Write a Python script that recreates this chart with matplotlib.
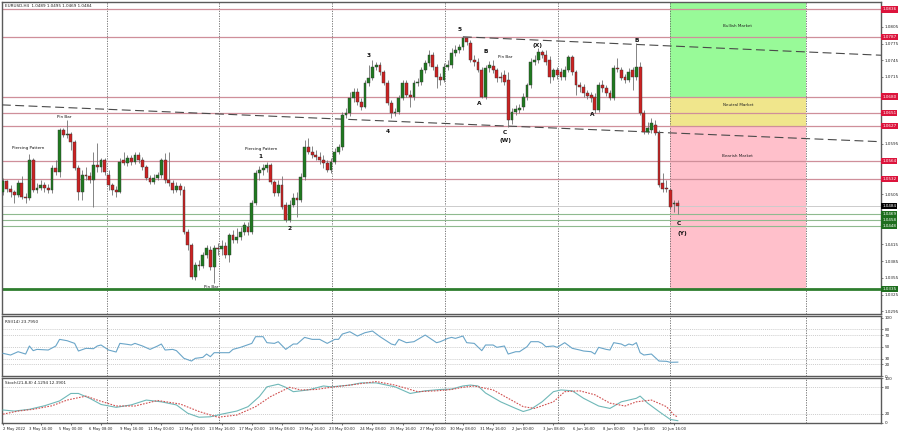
import matplotlib
matplotlib.use('Agg')
import matplotlib.pyplot as plt
from matplotlib.patches import Rectangle
import matplotlib.transforms as mtransforms

# ---------------- data (EURUSD H4, 2 May - 10 Jun 2022) ----------------
opens = [1.0509,1.0529,1.0514,1.0509,1.0504,1.0525,1.0500,1.0498,1.0566,1.0512,
         1.0516,1.0521,1.0516,1.0512,1.0552,1.0545,1.0620,1.0611,1.0613,1.0599,
         1.0552,1.0509,1.0539,1.0538,1.0530,1.0557,1.0554,1.0566,1.0539,1.0521,
         1.0512,1.0509,1.0566,1.0561,1.0570,1.0563,1.0575,1.0566,1.0554,1.0534,
         1.0527,1.0534,1.0539,1.0566,1.0530,1.0525,1.0512,1.0520,1.0512,1.0437,
         1.0414,1.0357,1.0378,1.0376,1.0396,1.0405,1.0375,1.0409,1.0407,1.0412,
         1.0396,1.0432,1.0423,1.0428,1.0437,1.0446,1.0437,1.0489,1.0543,1.0548,
         1.0552,1.0557,1.0527,1.0507,1.0521,1.0486,1.0459,1.0486,1.0498,1.0495,
         1.0536,1.0590,1.0581,1.0575,1.0572,1.0566,1.0561,1.0548,1.0563,1.0581,
         1.0590,1.0647,1.0651,1.0677,1.0688,1.0670,1.0661,1.0704,1.0713,1.0733,
         1.0737,1.0724,1.0704,1.0668,1.0651,1.0652,1.0677,1.0704,1.0683,1.0679,
         1.0704,1.0706,1.0728,1.0740,1.0754,1.0733,1.0715,1.0710,1.0733,1.0737,
         1.0758,1.0763,1.0769,1.0785,1.0776,1.0745,1.0742,1.0728,1.0679,1.0731,
         1.0735,1.0728,1.0715,1.0719,1.0710,1.0638,1.0652,1.0656,1.0661,1.0679,
         1.0701,1.0742,1.0745,1.0760,1.0754,1.0745,1.0715,1.0728,1.0724,1.0715,
         1.0728,1.0751,1.0724,1.0701,1.0697,1.0686,1.0683,1.0679,1.0656,1.0701,
         1.0695,1.0686,1.0677,1.0731,1.0728,1.0715,1.0710,1.0728,1.0715,1.0733,
         1.0651,1.0616,1.0620,1.0629,1.0615,1.0525,1.0516,1.0512,1.0488,1.0489]
closes = [1.0529,1.0514,1.0509,1.0504,1.0525,1.0500,1.0498,1.0566,1.0512,1.0516,
          1.0521,1.0516,1.0512,1.0552,1.0545,1.0620,1.0611,1.0612,1.0599,1.0552,
          1.0509,1.0539,1.0538,1.0530,1.0557,1.0554,1.0566,1.0545,1.0521,1.0512,
          1.0509,1.0563,1.0561,1.0570,1.0563,1.0575,1.0566,1.0554,1.0534,1.0527,
          1.0534,1.0539,1.0566,1.0530,1.0525,1.0512,1.0520,1.0512,1.0437,1.0414,
          1.0357,1.0378,1.0376,1.0396,1.0409,1.0375,1.0409,1.0407,1.0412,1.0396,
          1.0432,1.0423,1.0428,1.0437,1.0450,1.0437,1.0489,1.0543,1.0548,1.0552,
          1.0557,1.0527,1.0507,1.0521,1.0482,1.0459,1.0486,1.0498,1.0495,1.0536,
          1.0590,1.0581,1.0575,1.0572,1.0566,1.0561,1.0548,1.0563,1.0581,1.0590,
          1.0647,1.0651,1.0677,1.0688,1.0670,1.0661,1.0704,1.0713,1.0733,1.0737,
          1.0724,1.0704,1.0668,1.0651,1.0652,1.0677,1.0704,1.0683,1.0679,1.0704,
          1.0706,1.0728,1.0740,1.0754,1.0733,1.0715,1.0710,1.0733,1.0737,1.0758,
          1.0763,1.0769,1.0785,1.0778,1.0745,1.0742,1.0728,1.0679,1.0731,1.0737,
          1.0728,1.0713,1.0713,1.0706,1.0638,1.0652,1.0658,1.0659,1.0679,1.0701,
          1.0742,1.0745,1.0760,1.0754,1.0742,1.0715,1.0728,1.0719,1.0715,1.0728,
          1.0751,1.0724,1.0701,1.0697,1.0686,1.0681,1.0677,1.0656,1.0701,1.0695,
          1.0686,1.0677,1.0731,1.0729,1.0713,1.0710,1.0724,1.0715,1.0733,1.0651,
          1.0616,1.0624,1.0633,1.0615,1.0521,1.0514,1.0515,1.0482,1.0489,1.0484]
highs = [1.0534,1.0530,1.0521,1.0512,1.0530,1.0538,1.0507,1.0577,1.0570,1.0525,
         1.0530,1.0527,1.0523,1.0557,1.0566,1.0624,1.0624,1.0638,1.0616,1.0602,
         1.0557,1.0548,1.0554,1.0545,1.0581,1.0597,1.0570,1.0570,1.0548,1.0525,
         1.0520,1.0570,1.0581,1.0575,1.0575,1.0581,1.0581,1.0572,1.0557,1.0539,
         1.0541,1.0545,1.0570,1.0579,1.0581,1.0530,1.0527,1.0525,1.0520,1.0443,
         1.0418,1.0384,1.0387,1.0401,1.0414,1.0412,1.0414,1.0418,1.0423,1.0419,
         1.0435,1.0441,1.0444,1.0446,1.0455,1.0455,1.0495,1.0548,1.0556,1.0559,
         1.0563,1.0561,1.0530,1.0530,1.0538,1.0491,1.0495,1.0507,1.0509,1.0543,
         1.0602,1.0606,1.0591,1.0584,1.0581,1.0575,1.0566,1.0570,1.0588,1.0595,
         1.0652,1.0659,1.0688,1.0695,1.0695,1.0677,1.0710,1.0737,1.0745,1.0742,
         1.0742,1.0728,1.0710,1.0674,1.0659,1.0683,1.0710,1.0710,1.0692,1.0710,
         1.0713,1.0733,1.0745,1.0763,1.0760,1.0738,1.0722,1.0740,1.0745,1.0767,
         1.0772,1.0774,1.0788,1.0787,1.0781,1.0754,1.0749,1.0733,1.0737,1.0744,
         1.0745,1.0731,1.0724,1.0728,1.0724,1.0659,1.0665,1.0667,1.0686,1.0704,
         1.0749,1.0754,1.0767,1.0763,1.0763,1.0753,1.0731,1.0733,1.0731,1.0735,
         1.0754,1.0754,1.0728,1.0706,1.0702,1.0692,1.0688,1.0686,1.0706,1.0710,
         1.0701,1.0692,1.0737,1.0749,1.0733,1.0720,1.0731,1.0733,1.0776,1.0742,
         1.0656,1.0634,1.0642,1.0638,1.0620,1.0543,1.0530,1.0516,1.0495,1.0495]
lows = [1.0504,1.0509,1.0500,1.0489,1.0500,1.0497,1.0489,1.0495,1.0509,1.0507,
        1.0512,1.0509,1.0507,1.0507,1.0539,1.0536,1.0608,1.0606,1.0584,1.0548,
        1.0495,1.0495,1.0530,1.0525,1.0482,1.0545,1.0545,1.0539,1.0512,1.0504,
        1.0500,1.0507,1.0557,1.0556,1.0557,1.0559,1.0561,1.0548,1.0530,1.0523,
        1.0523,1.0530,1.0534,1.0525,1.0520,1.0507,1.0509,1.0504,1.0434,1.0405,
        1.0353,1.0351,1.0369,1.0373,1.0391,1.0369,1.0346,1.0396,1.0396,1.0391,
        1.0384,1.0418,1.0418,1.0423,1.0432,1.0432,1.0434,1.0486,1.0530,1.0539,
        1.0545,1.0523,1.0502,1.0502,1.0478,1.0455,1.0455,1.0482,1.0464,1.0491,
        1.0530,1.0577,1.0570,1.0566,1.0559,1.0552,1.0545,1.0543,1.0559,1.0577,
        1.0584,1.0642,1.0645,1.0670,1.0665,1.0656,1.0659,1.0699,1.0710,1.0728,
        1.0719,1.0701,1.0665,1.0642,1.0645,1.0649,1.0674,1.0679,1.0661,1.0674,
        1.0699,1.0701,1.0722,1.0735,1.0728,1.0695,1.0701,1.0706,1.0728,1.0731,
        1.0753,1.0758,1.0763,1.0772,1.0742,1.0735,1.0724,1.0677,1.0676,1.0724,
        1.0722,1.0706,1.0706,1.0701,1.0625,1.0631,1.0647,1.0651,1.0656,1.0674,
        1.0695,1.0737,1.0740,1.0749,1.0737,1.0704,1.0710,1.0711,1.0710,1.0710,
        1.0724,1.0719,1.0683,1.0688,1.0679,1.0676,1.0670,1.0651,1.0652,1.0688,
        1.0681,1.0674,1.0674,1.0724,1.0710,1.0704,1.0706,1.0692,1.0710,1.0647,
        1.0613,1.0613,1.0615,1.0611,1.0518,1.0509,1.0509,1.0478,1.0473,1.0469]

rsi_bar = [0,2,4,6,7,8,9,12,14,15,17,19,20,22,24,25,26,28,30,31,33,34,35,37,39,41,42,43,45,46,
           48,50,51,53,54,55,56,58,60,61,63,66,67,69,70,72,73,75,77,78,80,82,84,86,88,89,90,92,94,96,
           98,100,103,104,105,107,109,112,115,116,118,119,120,122,123,125,127,128,130,131,133,134,136,137,139,140,142,143,144,146,
           147,149,151,153,154,156,157,158,160,161,162,164,165,166,167,168,169,170,172,174,176,177,179]
rsi_val = [38.9,36.0,41.7,37.7,51.5,43.5,45.7,44.6,51.5,62.9,60.6,56.0,42.9,47.5,46.9,51.5,53.2,44.6,41.2,56.0,54.3,53.2,56.0,51.5,45.7,51.5,54.9,44.6,45.7,43.5,
           30.3,25.7,30.3,32.0,37.7,33.2,40.0,40.0,40.0,45.7,49.2,56.0,67.5,67.5,57.2,56.0,58.9,45.7,54.9,54.9,66.3,62.9,62.9,56.0,62.9,62.9,72.0,76.0,68.6,74.3,
           77.2,67.5,54.9,53.2,62.9,57.2,58.9,70.3,57.2,58.9,64.6,66.3,64.6,68.6,57.2,56.0,43.5,53.2,53.2,49.2,51.5,37.7,41.7,41.7,50.3,58.9,58.9,56.0,50.3,51.5,
           49.2,57.2,47.5,44.6,42.9,41.7,37.7,49.2,45.7,44.6,57.2,54.9,51.5,54.9,53.2,57.2,40.0,36.0,37.7,25.7,25.2,23.5,23.8]

stoch_bar = [0,3,7,11,15,18,20,23,26,30,34,38,42,46,49,52,55,58,62,65,68,70,73,75,77,81,85,87,92,95,
             99,104,108,112,116,119,122,124,126,128,132,136,138,140,143,146,148,151,154,158,161,164,168,169,171,174,177,179]
stoch_main = [28.4,26,30,38,49,66,66,55,41,34.5,40,51,47,40,21,12,13,19,26,36,59,81,87,80,70,74,83,81,85,90,
              90,81,66,72,75,76,83,85,83,67,47,32,25,30,47,70,74,72,55,37.5,32,47,55,60,44,25,7,4.13]
signal_bar = [0,4,8,13,17,22,25,30,35,41,47,52,57,62,67,71,76,79,83,87,92,99,104,110,115,119,122,125,130,134,
              138,141,146,149,153,157,161,165,168,172,176,178,179]
stoch_signal = [19,26,30,38,51,60,51,37.5,37.5,50,42,25,12,17,36,59,80,74,75,80,85,93,85,70,72,75,80,83,74,55,
                36,32,47,70,72,63,44,37.5,47,51,36,17,12.39]

resistance_levels = [1.0836, 1.0787, 1.0680, 1.0651, 1.0627, 1.0564, 1.0532]
support_levels = [1.0469, 1.0458, 1.0448]
major_support = 1.0335
current_price = 1.0484
zone_start, zone_end = 176.9, 213.0
zones = [("Bullish Market", 1.0680, 1.0870, "#98fa98"),
         ("Neutral Market", 1.0627, 1.0680, "#f0e68c"),
         ("Bearish Market", major_support, 1.0627, "#ffc0cb")]
zone_label_price = [1.0806, 1.0665, 1.0573]
trend_upper = ([122, 232.9], [1.0787, 1.0754])
trend_lower = ([-0.3, 232.9], [1.0665, 1.0599])
vgrid = [27.6, 57.3, 87.3, 117.2, 147.2, 176.9, 213.0]

annotations = [("Pin Bar", 16.2, 1.0643, False), ("Piercing Pattern", 6.6, 1.0588, False),
               ("Piercing Pattern", 68.4, 1.0586, False), ("1", 68.2, 1.0572, True),
               ("2", 76.1, 1.0443, True), ("Pin Bar", 55.2, 1.0339, False),
               ("3", 97.1, 1.0753, True), ("4", 102.1, 1.0618, True), ("5", 121.2, 1.0801, True),
               ("B", 128.1, 1.0760, True), ("Pin Bar", 133.2, 1.0751, False),
               ("A", 126.3, 1.0668, True), ("C", 133.2, 1.0616, True), ("(W)", 133.2, 1.0602, True),
               ("(X)", 141.9, 1.0772, True), ("A", 156.2, 1.0647, True), ("B", 168.2, 1.0781, True),
               ("C", 179.3, 1.0453, True), ("(Y)", 180.1, 1.0434, True)]

price_ticks = [1.0295, 1.0325, 1.0355, 1.0385, 1.0415, 1.0445, 1.0475, 1.0505, 1.0535,
               1.0565, 1.0595, 1.0625, 1.0655, 1.0685, 1.0715, 1.0745, 1.0775, 1.0805]
hidden_ticks = [1.0445, 1.0475, 1.0535, 1.0565, 1.0625, 1.0655, 1.0685]   # covered by level boxes

time_ticks = list(range(10, 179, 8))
time_labels = ["3 May 16:00", "5 May 00:00", "6 May 08:00", "9 May 16:00", "11 May 00:00",
               "12 May 08:00", "13 May 16:00", "17 May 00:00", "18 May 08:00", "19 May 16:00",
               "23 May 00:00", "24 May 08:00", "25 May 16:00", "27 May 00:00", "30 May 08:00",
               "31 May 16:00", "2 Jun 00:00", "3 Jun 08:00", "6 Jun 16:00", "8 Jun 00:00",
               "9 Jun 08:00", "10 Jun 16:00"]

# ---------------- figure ----------------
plt.rcParams['font.family'] = ['DejaVu Sans']
W, H = 900, 433
fig = plt.figure(figsize=(9, 4.33), dpi=100)
fig.patch.set_facecolor('white')

def rect(x0, y0, x1, y1):
    return [x0 / W, 1 - y1 / H, (x1 - x0) / W, (y1 - y0) / H]

ax = fig.add_axes(rect(2, 2, 881, 314))
ax_rsi = fig.add_axes(rect(2, 316, 881, 376))
ax_st = fig.add_axes(rect(2, 378, 881, 423))

XLIM = (-0.27, 232.9)
FS = 3.0
for a in (ax, ax_rsi, ax_st):
    a.set_xlim(*XLIM)
    a.yaxis.tick_right()
    a.tick_params(axis='y', labelsize=FS, length=1.5, width=0.4, pad=1, colors='#222222')
    a.tick_params(axis='x', length=0)
    for s in a.spines.values():
        s.set_color('#5a5a5a')
        s.set_linewidth(1.0)
    for v in vgrid:
        a.axvline(v, color='#666666', lw=0.6, ls=(0, (1.5, 1.5)), zorder=1)
ax.set_xticks([])
ax_rsi.set_xticks([])

# main panel
ax.set_ylim(1.02902, 1.08494)
ax.set_yticks(price_ticks)
ax.set_yticklabels(["" if t in hidden_ticks else f"{t:.4f}" for t in price_ticks])

for (name, lo, hi, col), lp in zip(zones, zone_label_price):
    ax.add_patch(Rectangle((zone_start, lo), zone_end - zone_start, hi - lo,
                           facecolor=col, edgecolor='none', zorder=0.5))
    ax.text((zone_start + zone_end) / 2, lp, name, fontsize=FS, ha='center', va='center',
            color='#222222', zorder=6)

for lv in resistance_levels:
    ax.axhline(lv, color='#cf8f9a', lw=0.9, zorder=2)
ax.axhline(current_price, color='#cccccc', lw=0.7, zorder=2)
for lv in support_levels:
    ax.axhline(lv, color='#8fba8f', lw=0.8, zorder=2)
ax.axhline(major_support, color='#2e7d2e', lw=2.0, zorder=2)

ax.plot(trend_upper[0], trend_upper[1], color='#4a4a4a', lw=0.8, dashes=(8, 4), zorder=3)
ax.plot(trend_lower[0], trend_lower[1], color='#4a4a4a', lw=0.8, dashes=(8, 4), zorder=3)

idx = list(range(len(closes)))
ax.vlines(idx, lows, highs, color='#707070', lw=0.6, zorder=4)
for i, (o, c) in enumerate(zip(opens, closes)):
    col = '#1f7a1f' if c >= o else '#cc2222'
    ax.bar(i, c - o, bottom=o, width=0.75, color=col, edgecolor='#333333',
           linewidth=0.3, zorder=5)

for txt, x, y, bold in annotations:
    ax.text(x, y, txt, fontsize=4.2 if bold else FS, fontweight='bold' if bold else 'normal',
            ha='center', va='center', color='#111111', zorder=7)

ax.text(0.003, 0.988, "EURUSD,H4  1.0489 1.0495 1.0469 1.0484", transform=ax.transAxes,
        fontsize=FS, ha='left', va='center', color='#222222')

tr = mtransforms.blended_transform_factory(ax.transAxes, ax.transData)
def price_box(p, bg):
    ax.text(1.0015, p, f"{p:.4f}", transform=tr, fontsize=FS, color='white', ha='left',
            va='center', zorder=10, clip_on=False,
            bbox=dict(boxstyle='square,pad=0.25', facecolor=bg, edgecolor='none'))
for lv in resistance_levels:
    price_box(lv, '#dc143c')
price_box(current_price, '#000000')
for lv in support_levels + [major_support]:
    price_box(lv, '#1e6e1e')

# RSI panel
ax_rsi.set_ylim(0, 103)
ax_rsi.set_yticks([0, 20, 30, 50, 70, 80, 100])
for lv in [20, 30, 50, 70, 80]:
    ax_rsi.axhline(lv, color='#bbbbbb', lw=0.5, ls=(0, (1.5, 1.5)), zorder=1)
ax_rsi.plot(rsi_bar, rsi_val, color='#6aa5c8', lw=0.8, zorder=3)
ax_rsi.text(0.003, 0.9, "RSI(14) 23.7950", transform=ax_rsi.transAxes, fontsize=FS,
            ha='left', va='center', color='#222222')

# Stochastic panel
ax_st.set_ylim(-1.1, 101.1)
ax_st.set_yticks([0, 20, 80, 100])
for lv in [20, 80]:
    ax_st.axhline(lv, color='#bbbbbb', lw=0.5, ls=(0, (1.5, 1.5)), zorder=1)
ax_st.plot(stoch_bar, stoch_main, color='#6fb8b8', lw=0.8, zorder=3)
ax_st.plot(signal_bar, stoch_signal, color='#d05050', lw=0.8, ls=(0, (1.5, 1.2)), zorder=3)
ax_st.text(0.003, 0.9, "Stoch(21,8,8) 4.1294 12.3901", transform=ax_st.transAxes, fontsize=FS,
           ha='left', va='center', color='#222222')

ax_st.set_xticks([0] + time_ticks)
ax_st.set_xticklabels(["2 May 2022"] + time_labels, fontsize=2.7, color='#222222')
ax_st.tick_params(axis='x', length=1.5, width=0.4, pad=1.5)
ax_st.get_xticklabels()[0].set_ha('left')

fig.savefig('out.png', dpi=100, facecolor='white')
